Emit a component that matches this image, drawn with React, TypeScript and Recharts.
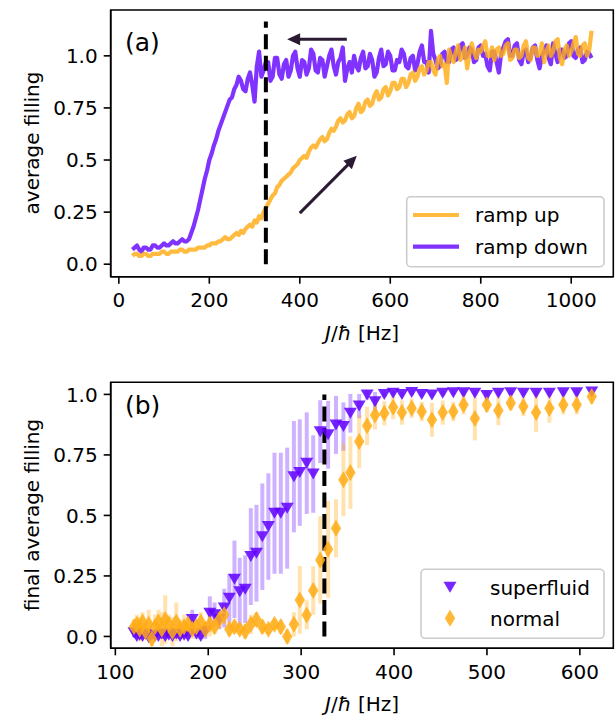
import React from "react";
import {
  ComposedChart,
  Line,
  Scatter,
  XAxis,
  YAxis,
  ReferenceLine,
  ReferenceArea,
  ErrorBar,
} from "recharts";

// ---------- Panel (a) data ----------
const jTop = [
  30, 35, 40, 45, 50, 55, 60, 65, 70, 75,
  80, 85, 90, 95, 100, 105, 110, 115, 120, 125,
  130, 135, 140, 145, 150, 155, 160, 165, 170, 175,
  180, 185, 190, 195, 200, 205, 210, 215, 220, 225,
  230, 235, 240, 245, 250, 255, 260, 265, 270, 275,
  280, 285, 290, 295, 300, 305, 310, 315, 320, 325,
  330, 335, 340, 345, 350, 355, 360, 365, 370, 375,
  380, 385, 390, 395, 400, 405, 410, 415, 420, 425,
  430, 435, 440, 445, 450, 455, 460, 465, 470, 475,
  480, 485, 490, 495, 500, 505, 510, 515, 520, 525,
  530, 535, 540, 545, 550, 555, 560, 565, 570, 575,
  580, 585, 590, 595, 600, 605, 610, 615, 620, 625,
  630, 635, 640, 645, 650, 655, 660, 665, 670, 675,
  680, 685, 690, 695, 700, 705, 710, 715, 720, 725,
  730, 735, 740, 745, 750, 755, 760, 765, 770, 775,
  780, 785, 790, 795, 800, 805, 810, 815, 820, 825,
  830, 835, 840, 845, 850, 855, 860, 865, 870, 875,
  880, 885, 890, 895, 900, 905, 910, 915, 920, 925,
  930, 935, 940, 945, 950, 955, 960, 965, 970, 975,
  980, 985, 990, 995, 1000, 1005, 1010, 1015, 1020, 1025,
  1030, 1035, 1040, 1045,
];
const rampDown = [
  0.07, 0.08, 0.09, 0.07, 0.06, 0.08, 0.08, 0.07, 0.07, 0.09,
  0.09, 0.08, 0.08, 0.09, 0.1, 0.09, 0.09, 0.1, 0.11, 0.1,
  0.1, 0.11, 0.12, 0.11, 0.11, 0.12, 0.15, 0.18, 0.22, 0.26,
  0.31, 0.36, 0.41, 0.45, 0.5, 0.53, 0.57, 0.6, 0.64, 0.67,
  0.7, 0.73, 0.76, 0.79, 0.8, 0.84, 0.86, 0.9, 0.88, 0.84,
  0.83, 0.89, 0.92, 0.86, 0.78, 0.95, 1.02, 0.9, 0.93, 0.97,
  0.97, 0.88, 0.9, 0.99, 0.99, 0.91, 0.89, 0.96, 0.98, 0.9,
  0.93, 1.0, 1.02, 0.94, 0.9, 0.98, 0.97, 0.91, 0.94, 1.03,
  1.01, 0.93, 0.92, 0.99, 0.98, 0.9, 0.95, 1.0, 1.03, 0.95,
  0.91, 0.97, 0.99, 1.04, 0.88, 0.94, 0.97, 0.92, 1.0, 0.95,
  0.93, 0.99, 1.02, 0.94, 0.95, 1.01, 0.98, 0.9, 0.92, 0.99,
  1.03, 0.95, 0.96, 1.02, 1.0, 0.93, 0.93, 0.98, 0.97, 1.03,
  1.01, 0.95, 0.94, 0.99, 1.0, 0.93, 0.96, 1.02, 1.05, 0.97,
  0.97, 0.92, 1.12, 1.01, 0.98, 0.94, 0.95, 1.01, 1.02, 0.97,
  0.97, 1.03, 1.04, 0.98, 0.99, 1.05, 1.06, 0.99, 1.0, 1.04,
  1.03, 0.97, 0.98, 1.04, 1.05, 1.0, 1.01, 0.95, 0.93, 1.02,
  1.02, 0.97, 0.92, 1.01, 1.04, 1.07, 1.08, 1.0, 1.0, 1.05,
  1.06, 0.98, 0.96, 1.02, 1.03, 0.97, 0.99, 1.04, 1.05, 0.98,
  0.94, 1.0, 1.02, 1.05, 0.99, 0.96, 1.06, 1.01, 0.97, 1.03,
  1.03, 0.99, 1.0, 1.06, 1.07, 1.0, 0.99, 1.03, 1.04, 0.97,
  0.98, 1.02, 1.01, 0.99,
];
const rampUp = [
  0.04, 0.05, 0.05, 0.04, 0.04, 0.05, 0.05, 0.04, 0.04, 0.05,
  0.05, 0.05, 0.05, 0.06, 0.06, 0.05, 0.05, 0.06, 0.06, 0.06,
  0.06, 0.07, 0.07, 0.06, 0.06, 0.07, 0.07, 0.07, 0.07, 0.08,
  0.08, 0.08, 0.08, 0.09, 0.09, 0.1, 0.1, 0.1, 0.11, 0.11,
  0.12, 0.13, 0.12, 0.12, 0.13, 0.14, 0.15, 0.14, 0.16, 0.15,
  0.17, 0.18, 0.19, 0.18, 0.21, 0.2, 0.23, 0.22, 0.25, 0.27,
  0.29, 0.31, 0.33, 0.34, 0.37, 0.38, 0.4, 0.41, 0.42, 0.43,
  0.44, 0.46, 0.47, 0.48, 0.5, 0.51, 0.52, 0.51, 0.54, 0.56,
  0.57, 0.56, 0.58, 0.6, 0.61, 0.59, 0.6, 0.63, 0.65, 0.64,
  0.66, 0.69, 0.7, 0.68, 0.69, 0.72, 0.73, 0.7, 0.71, 0.75,
  0.77, 0.73, 0.74, 0.78, 0.79, 0.76, 0.77, 0.81, 0.83, 0.79,
  0.8, 0.84, 0.85, 0.81, 0.83, 0.87, 0.87, 0.84, 0.85, 0.89,
  0.89, 0.85, 0.87, 0.91, 0.92, 0.88, 0.9, 0.94, 0.95, 0.91,
  0.93, 0.97, 0.97, 0.93, 0.91, 0.98, 1.0, 0.95, 0.96, 0.87,
  1.03, 0.99, 0.97, 1.02, 1.05, 0.98, 1.0, 1.04, 0.94, 1.01,
  1.06, 1.02, 0.99, 1.03, 1.02, 1.05, 1.07, 1.0, 1.0, 1.04,
  0.98, 1.03, 1.04, 1.0, 1.01, 1.05, 1.06, 0.98, 0.99, 1.03,
  1.03, 0.99, 1.0, 1.05, 1.07, 0.99, 0.98, 1.04, 1.04, 1.0,
  1.01, 1.06, 0.97, 1.02, 1.05, 1.0, 1.02, 1.07, 1.08, 0.99,
  0.96, 1.03, 1.05, 1.0, 1.02, 1.06, 1.09, 1.01, 1.0, 1.05,
  1.06, 1.0, 1.03, 1.12,
];

// ---------- Panel (b) data ----------
const jBottom = [
  120.1, 123.1, 126.2, 129.3, 132.5, 135.9, 139.3, 142.7, 146.3, 150.0,
  153.7, 157.6, 161.5, 165.6, 169.7, 174.0, 178.3, 182.8, 187.3, 192.0,
  196.8, 201.7, 206.8, 211.9, 217.2, 222.7, 228.2, 233.9, 239.8, 245.8,
  251.9, 258.2, 264.7, 271.3, 278.1, 285.0, 292.2, 298.5, 306.0, 313.0,
  320.5, 329.0, 337.5, 345.5, 353.0, 362.5, 371.0, 379.5, 389.5, 399.0,
  408.5, 419.0, 429.8, 440.8, 452.4, 463.8, 474.8, 487.0, 499.8, 512.3,
  525.6, 539.2, 552.9, 567.2, 582.2, 596.6, 612.8,
];
const superfluid = [
  0.015, 0.0, 0.005, 0.0, 0.01, -0.005, 0.005, 0.0, 0.0, 0.01,
  0.0, 0.005, 0.0, 0.01, 0.0, 0.005, 0.0, 0.07, 0.01, 0.0,
  0.02, 0.096, 0.09, 0.07, 0.117, 0.158, 0.236, 0.185, 0.195, 0.33,
  0.344, 0.412, 0.454, 0.509, 0.509, 0.53, 0.66, 0.677, 0.716, 0.671,
  0.846, 0.833, 0.874, 0.867, 0.922, 0.952, 0.998, 0.97, 1.0, 1.005,
  1.0, 1.008, 1.0, 0.998, 1.005, 1.007, 1.007, 1.005, 0.995, 1.005,
  1.007, 1.005, 1.005, 1.005, 1.007, 1.007, 1.01,
];
const superfluidErr = [
  0.02, 0.01, 0.01, 0.01, 0.02, 0.01, 0.01, 0.01, 0.01, 0.02,
  0.01, 0.01, 0.01, 0.02, 0.01, 0.01, 0.01, 0.04, 0.02, 0.01,
  0.03, 0.07, 0.05, 0.04, 0.08, 0.1, 0.16, 0.14, 0.14, 0.2,
  0.2, 0.22, 0.22, 0.25, 0.25, 0.25, 0.23, 0.22, 0.21, 0.16,
  0.13, 0.14, 0.12, 0.1, 0.08, 0.05, 0.02, 0.04, 0.01, 0.01,
  0.01, 0.01, 0.01, 0.01, 0.01, 0.01, 0.01, 0.01, 0.02, 0.01,
  0.01, 0.01, 0.01, 0.01, 0.01, 0.01, 0.01,
];
const normal = [
  0.04, 0.05, 0.03, 0.06, 0.02, 0.05, -0.01, 0.04, 0.06, 0.03,
  0.07, 0.05, 0.02, 0.06, 0.03, 0.04, 0.05, 0.03, 0.04, 0.06,
  0.03, 0.05, 0.04, 0.07, 0.09, 0.03, 0.04, 0.03, 0.02, 0.05,
  0.07, 0.04, 0.03, 0.05, 0.04, 0.0, 0.05, 0.151, 0.089, 0.19,
  0.316, 0.36, 0.447, 0.647, 0.677, 0.805, 0.87, 0.915, 0.922, 0.947,
  0.925, 0.943, 0.929, 0.895, 0.925, 0.929, 0.957, 0.9, 0.957, 0.933,
  0.964, 0.95, 0.925, 0.943, 0.957, 0.957, 0.991,
];
const normalErr = [
  0.03, 0.04, 0.05, 0.04, 0.03, 0.06, 0.03, 0.05, 0.05, 0.07,
  0.1, 0.04, 0.06, 0.08, 0.04, 0.05, 0.03, 0.04, 0.03, 0.04,
  0.03, 0.05, 0.03, 0.04, 0.04, 0.03, 0.03, 0.02, 0.03, 0.04,
  0.03, 0.03, 0.02, 0.02, 0.03, 0.03, 0.05, 0.14, 0.06, 0.1,
  0.18, 0.2, 0.12, 0.15, 0.15, 0.11, 0.08, 0.06, 0.05, 0.05,
  0.05, 0.04, 0.04, 0.07, 0.05, 0.04, 0.04, 0.09, 0.03, 0.06,
  0.03, 0.04, 0.08, 0.06, 0.04, 0.04, 0.03,
];

const xTicksTop = [0, 200, 400, 600, 800, 1000];
const xTicksBottom = [100, 200, 300, 400, 500, 600];
const yTicks = [0, 0.25, 0.5, 0.75, 1.0];

// ---------- styling ----------
const FONT = "DejaVu Sans";
const PURPLE = "#6000ff";
const ORANGE = "#ffac15";
const ARROW = "#2a1a33";

const topData = jTop.map((x, i) => ({ x, up: rampUp[i], down: rampDown[i] }));
const sfData = jBottom.map((x, i) => ({ x, y: superfluid[i], e: superfluidErr[i] }));
const nmData = jBottom.map((x, i) => ({ x, y: normal[i], e: normalErr[i] }));

const fmtY = (v: number) => (v === 0 ? "0.0" : v === 1 ? "1.0" : String(v));

const tickStyle = { fill: "#000", fontSize: 20, fontFamily: FONT };
const tickLineStyle = { stroke: "#000", strokeWidth: 1.6 };

const TriDown = (cx: number, cy: number) => (
  <polygon
    points={`${cx - 6.5},${cy - 5.5} ${cx + 6.5},${cy - 5.5} ${cx},${cy + 5.5}`}
    fill={PURPLE}
    fillOpacity={0.85}
  />
);
const Diamond = (cx: number, cy: number) => (
  <polygon
    points={`${cx},${cy - 8.5} ${cx + 5.2},${cy} ${cx},${cy + 8.5} ${cx - 5.2},${cy}`}
    fill={ORANGE}
    fillOpacity={0.85}
  />
);

const Arrow = (props: any) => {
  const { x1, y1, x2, y2 } = props;
  const dx = x2 - x1;
  const dy = y2 - y1;
  const len = Math.hypot(dx, dy) || 1;
  const ux = dx / len;
  const uy = dy / len;
  const hl = 13;
  const hw = 6;
  const bx = x2 - ux * hl;
  const by = y2 - uy * hl;
  const px = -uy;
  const py = ux;
  return (
    <g>
      <line x1={x1} y1={y1} x2={bx + ux * 2} y2={by + uy * 2} stroke={ARROW} strokeWidth={3} />
      <polygon
        points={`${x2},${y2} ${bx + px * hw},${by + py * hw} ${bx - px * hw},${by - py * hw}`}
        fill={ARROW}
      />
    </g>
  );
};

const Empty = () => <g />;

export default function App() {
  return (
    <div style={{ position: "absolute", left: 0, top: 0, width: 615, height: 719, background: "#fff" }}>
      {/* Panel (a) */}
      <div style={{ position: "absolute", left: 0, top: 0 }}>
        <ComposedChart width={615} height={340} data={topData} margin={{ top: 10, right: 1.7, bottom: 0, left: 0 }}>
          <XAxis
            dataKey="x"
            type="number"
            domain={[-18, 1093]}
            ticks={xTicksTop}
            allowDataOverflow
            height={63.3}
            tickSize={7}
            tickMargin={9}
            tick={tickStyle}
            tickLine={tickLineStyle}
            axisLine={tickLineStyle}
          />
          <YAxis
            type="number"
            domain={[-0.06, 1.22]}
            ticks={yTicks}
            allowDataOverflow
            width={110.7}
            tickSize={7}
            tickMargin={6}
            tick={tickStyle}
            tickLine={tickLineStyle}
            axisLine={tickLineStyle}
            tickFormatter={fmtY}
          />
          <Line
            dataKey="down"
            stroke={PURPLE}
            strokeOpacity={0.8}
            strokeWidth={4.2}
            dot={false}
            isAnimationActive={false}
            strokeLinejoin="round"
          />
          <Line
            dataKey="up"
            stroke={ORANGE}
            strokeOpacity={0.82}
            strokeWidth={4.2}
            dot={false}
            isAnimationActive={false}
            strokeLinejoin="round"
          />
          <ReferenceLine
            segment={[{ x: 325, y: 0 }, { x: 325, y: 1.165 }]}
            stroke="#000"
            strokeWidth={4}
            strokeDasharray="15 6.5"
          />
          <ReferenceLine segment={[{ x: 504, y: 1.08 }, { x: 372, y: 1.08 }]} shape={Arrow} />
          <ReferenceLine segment={[{ x: 400, y: 0.245 }, { x: 526, y: 0.52 }]} shape={Arrow} />
          <ReferenceArea x1={-18} x2={1093} y1={-0.06} y2={1.22} fill="none" stroke="#000" strokeWidth={1.6} />
        </ComposedChart>
      </div>

      {/* Panel (b) */}
      <div style={{ position: "absolute", left: 0, top: 360 }}>
        <ComposedChart width={615} height={359} margin={{ top: 22.3, right: 1.7, bottom: 0, left: 0 }}>
          <XAxis
            dataKey="x"
            type="number"
            domain={[95, 636]}
            ticks={xTicksBottom}
            allowDataOverflow
            height={70.7}
            tickSize={7}
            tickMargin={9}
            tick={tickStyle}
            tickLine={tickLineStyle}
            axisLine={tickLineStyle}
          />
          <YAxis
            dataKey="y"
            type="number"
            domain={[-0.049, 1.05]}
            ticks={yTicks}
            allowDataOverflow
            width={110.7}
            tickSize={7}
            tickMargin={6}
            tick={tickStyle}
            tickLine={tickLineStyle}
            axisLine={tickLineStyle}
            tickFormatter={fmtY}
          />
          <Scatter data={sfData} dataKey="y" shape={Empty} isAnimationActive={false}>
            <ErrorBar dataKey="e" direction="y" width={0} stroke={PURPLE} strokeOpacity={0.3} strokeWidth={4} isAnimationActive={false} />
          </Scatter>
          <Scatter data={nmData} dataKey="y" shape={Empty} isAnimationActive={false}>
            <ErrorBar dataKey="e" direction="y" width={0} stroke={ORANGE} strokeOpacity={0.35} strokeWidth={4} isAnimationActive={false} />
          </Scatter>
          <Scatter
            data={sfData}
            dataKey="y"
            isAnimationActive={false}
            shape={(p: any) => TriDown(p.cx, p.cy)}
          />
          <Scatter
            data={nmData}
            dataKey="y"
            isAnimationActive={false}
            shape={(p: any) => Diamond(p.cx, p.cy)}
          />
          <ReferenceLine
            segment={[{ x: 325, y: 0 }, { x: 325, y: 1.0 }]}
            stroke="#000"
            strokeWidth={4}
            strokeDasharray="15 6.5"
          />
          <ReferenceArea x1={95} x2={636} y1={-0.049} y2={1.05} fill="none" stroke="#000" strokeWidth={1.6} />
        </ComposedChart>
      </div>

      {/* Text overlays and legends */}
      <svg
        width={615}
        height={719}
        style={{ position: "absolute", left: 0, top: 0, pointerEvents: "none" }}
        fontFamily={FONT}
      >
        <text x={125} y={50.5} fontSize={25}>(a)</text>
        <text x={125} y={414} fontSize={25}>(b)</text>

        <text x={362} y={340} fontSize={20} textAnchor="middle">
          <tspan fontStyle="italic">J</tspan>/<tspan fontStyle="italic">ħ</tspan> [Hz]
        </text>
        <text x={362} y={711} fontSize={20} textAnchor="middle">
          <tspan fontStyle="italic">J</tspan>/<tspan fontStyle="italic">ħ</tspan> [Hz]
        </text>

        <text x={39} y={143} fontSize={20} textAnchor="middle" transform="rotate(-90 39 143)">
          average filling
        </text>
        <text x={39} y={515} fontSize={20} textAnchor="middle" transform="rotate(-90 39 515)">
          final average filling
        </text>

        {/* legend (a) */}
        <rect x={406.7} y={196.7} width={197.3} height={70} rx={4} fill="#fff" fillOpacity={0.8} stroke="#cccccc" strokeWidth={1.6} />
        <line x1={413} y1={215} x2={459} y2={215} stroke={ORANGE} strokeOpacity={0.82} strokeWidth={4.2} />
        <line x1={413} y1={246.7} x2={459} y2={246.7} stroke={PURPLE} strokeOpacity={0.8} strokeWidth={4.2} />
        <text x={475} y={222} fontSize={20}>ramp up</text>
        <text x={475} y={254} fontSize={20}>ramp down</text>

        {/* legend (b) */}
        <rect x={421} y={569.3} width={183} height={69} rx={4} fill="#fff" fillOpacity={0.8} stroke="#cccccc" strokeWidth={1.6} />
        {TriDown(450, 587.3)}
        {Diamond(450, 618.3)}
        <text x={490} y={594.5} fontSize={20}>superfluid</text>
        <text x={490} y={625.5} fontSize={20}>normal</text>
      </svg>
    </div>
  );
}
